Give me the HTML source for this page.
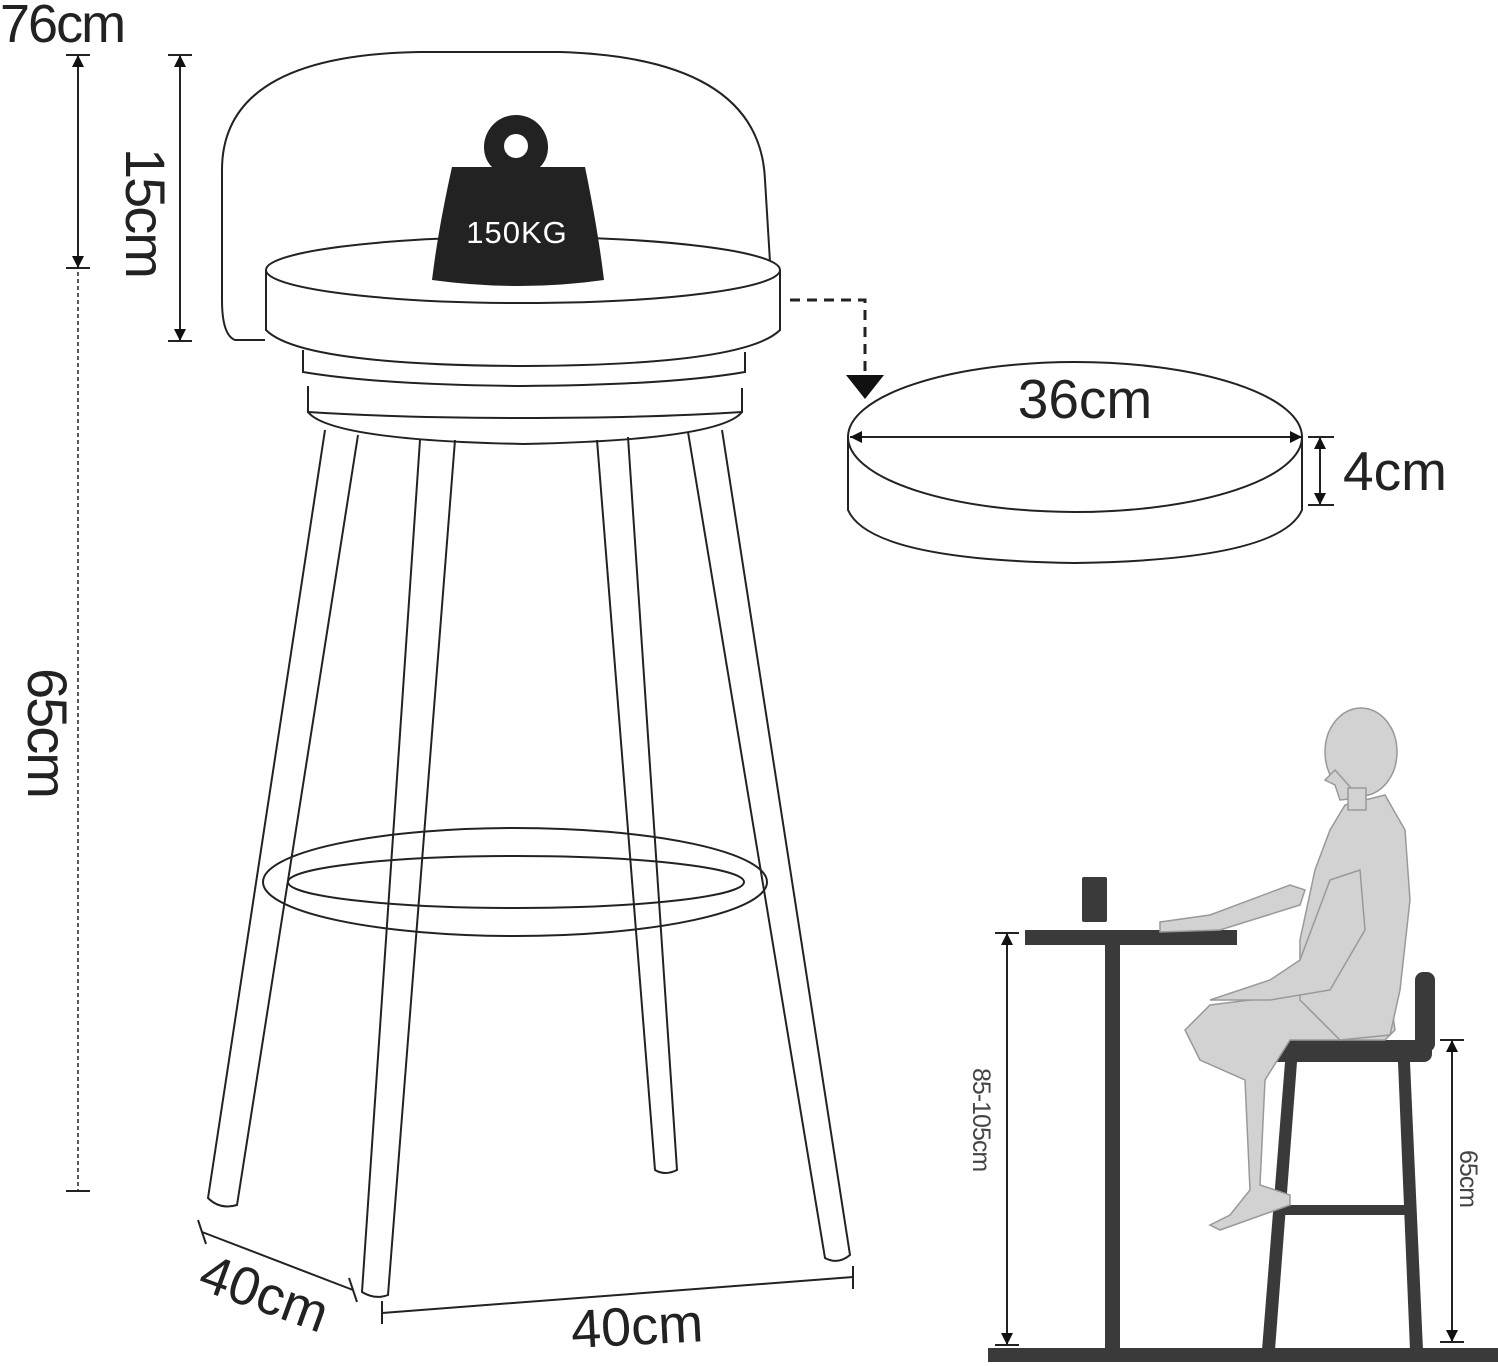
<!DOCTYPE html>
<html><head><meta charset="utf-8"><style>
html,body{margin:0;padding:0;background:#fff}
svg{display:block}
text{font-family:"Liberation Sans",sans-serif}
</style></head><body>
<svg width="1498" height="1366" viewBox="0 0 1498 1366" xmlns="http://www.w3.org/2000/svg">
<g fill="none" stroke="#222" stroke-width="2">
<line x1="78" y1="55" x2="78" y2="268"/>
<line x1="66" y1="55" x2="90" y2="55"/><line x1="66" y1="268" x2="90" y2="268"/>
<line x1="78" y1="272" x2="78" y2="1190" stroke-dasharray="4,3" stroke-width="1.5"/>
<line x1="66" y1="1191" x2="90" y2="1191"/>
<line x1="180" y1="55" x2="180" y2="340"/>
<line x1="168" y1="55" x2="192" y2="55"/><line x1="168" y1="341" x2="192" y2="341"/>
<path d="M265 340 L235 340 Q222 335 222 300 L222 170 Q222 55 420 52 L560 52 Q760 58 765 180 L770 262"/>
<ellipse cx="523" cy="270" rx="257" ry="33" fill="#fff"/>
<path d="M266 270 L266 330 Q300 365 523 366 Q745 365 780 330 L780 270"/>
<path d="M303 350 L303 372 Q380 385 523 386 Q670 385 745 372 L745 352"/>
<path d="M308 386 L308 412 Q400 418 523 418 Q650 418 742 412 L742 388"/>
<path d="M308 412 Q330 440 523 444 Q720 440 742 412"/>
<path d="M325 430 L208 1198 Q220 1210 237 1205 L358 435"/>
<path d="M420 440 L362 1292 Q375 1300 388 1295 L455 440"/>
<path d="M597 440 L655 1170 Q665 1176 677 1170 L628 437"/>
<path d="M688 432 L825 1258 Q838 1265 850 1255 L722 430"/>
<ellipse cx="515" cy="882" rx="252" ry="54"/>
<ellipse cx="516" cy="882" rx="228" ry="26"/>
<line x1="202" y1="1232" x2="353" y2="1290"/>
<line x1="198" y1="1220" x2="206" y2="1244"/><line x1="349" y1="1278" x2="357" y2="1302"/>
<line x1="382" y1="1313" x2="853" y2="1277"/>
<line x1="382" y1="1301" x2="382" y2="1324"/><line x1="853" y1="1266" x2="853" y2="1289"/>
<ellipse cx="1075" cy="437" rx="227" ry="75" fill="#fff"/>
<path d="M848 437 L848 510 Q870 560 1075 563 Q1280 560 1302 510 L1302 437"/>
<line x1="850" y1="437" x2="1302" y2="437"/>
<line x1="1320" y1="437" x2="1320" y2="505"/>
<line x1="1308" y1="437" x2="1334" y2="437"/><line x1="1308" y1="505" x2="1334" y2="505"/>
<path d="M790 300 L865 300 L865 375" stroke-width="3" stroke-dasharray="10,7"/>
<line x1="1007" y1="933" x2="1007" y2="1345"/>
<line x1="995" y1="933" x2="1019" y2="933"/><line x1="995" y1="1345" x2="1019" y2="1345"/>
<line x1="1452" y1="1040" x2="1452" y2="1342"/>
<line x1="1440" y1="1040" x2="1464" y2="1040"/><line x1="1440" y1="1342" x2="1464" y2="1342"/>
</g>
<polygon points="846,375 884,375 865,399" fill="#111"/>
<g fill="#111">
<polygon points="850,437 862,431 862,443"/><polygon points="1302,437 1290,431 1290,443"/>
<polygon points="1320,437 1314,449 1326,449"/><polygon points="1320,505 1314,493 1326,493"/>
<polygon points="78,55 72,67 84,67"/><polygon points="78,268 72,256 84,256"/>
<polygon points="180,55 174,67 186,67"/><polygon points="180,341 174,329 186,329"/>
<polygon points="1007,933 1001,945 1013,945"/><polygon points="1007,1345 1001,1333 1013,1333"/>
<polygon points="1452,1040 1446,1052 1458,1052"/><polygon points="1452,1342 1446,1330 1458,1330"/>
</g>
<path d="M516 115 a32 32 0 0 1 32 32 q0 12 -8 20 L585 167 Q598 230 604 280 Q520 292 432 280 Q438 230 452 167 L492 167 q-8 -8 -8 -20 a32 32 0 0 1 32 -32z" fill="#222"/>
<circle cx="516" cy="146" r="12" fill="#fff"/>
<text x="517" y="243" font-size="31" fill="#fff" text-anchor="middle" letter-spacing="1">150KG</text>
<text x="0" y="42" font-size="54" fill="#222" letter-spacing="-2">76cm</text>
<text transform="translate(126,148) rotate(90)" font-size="56" fill="#222" letter-spacing="-2">15cm</text>
<text transform="translate(28,668) rotate(90)" font-size="56" fill="#222" letter-spacing="-2">65cm</text>
<text transform="translate(196,1288) rotate(20)" font-size="54" fill="#222">40cm</text>
<text transform="translate(572,1348) rotate(-3)" font-size="54" fill="#222">40cm</text>
<text x="1085" y="418" font-size="55" fill="#222" text-anchor="middle">36cm</text>
<text x="1343" y="490" font-size="55" fill="#222">4cm</text>
<text transform="translate(973,1068) rotate(90)" font-size="25" fill="#444" letter-spacing="-1">85-105cm</text>
<text transform="translate(1460,1150) rotate(90)" font-size="25" fill="#444" letter-spacing="-1">65cm</text>
<g fill="#3a3a3a">
<rect x="1025" y="930" width="212" height="15"/>
<rect x="1105" y="945" width="15" height="405"/>
<rect x="988" y="1348" width="510" height="14"/>
<rect x="1082" y="877" width="25" height="45" rx="2"/>
<rect x="1270" y="1040" width="162" height="22" rx="8"/>
<rect x="1415" y="972" width="20" height="80" rx="8"/>
<polygon points="1285,1062 1297,1062 1275,1350 1262,1350"/>
<polygon points="1398,1062 1410,1062 1423,1350 1410,1350"/>
<rect x="1278" y="1205" width="132" height="10"/>
</g>
<g fill="#d2d2d2" stroke="#999" stroke-width="1.5">
<path d="M1160 922 L1210 915 L1290 885 L1305 890 L1300 905 L1220 930 L1160 932z"/>
<path d="M1230 1215 L1250 1190 L1245 1080 L1200 1060 L1185 1030 L1210 1005 L1330 990 L1390 995 L1395 1030 L1385 1040 L1290 1040 L1265 1080 L1260 1185 L1290 1195 L1290 1205 L1220 1230 L1210 1225z"/>
<path d="M1345 805 L1385 795 L1405 830 L1410 900 L1400 990 L1390 1035 L1340 1040 L1300 1000 L1300 940 L1315 870 L1330 830z"/>
<path d="M1210 1000 L1270 980 L1300 960 L1330 880 L1360 870 L1365 930 L1330 990 L1270 1000z"/>
<ellipse cx="1361" cy="752" rx="36" ry="44"/>
<path d="M1335 770 L1325 780 L1335 785 L1340 800 L1360 798z"/>
<rect x="1348" y="788" width="18" height="22"/>
</g>
</svg>
</body></html>
